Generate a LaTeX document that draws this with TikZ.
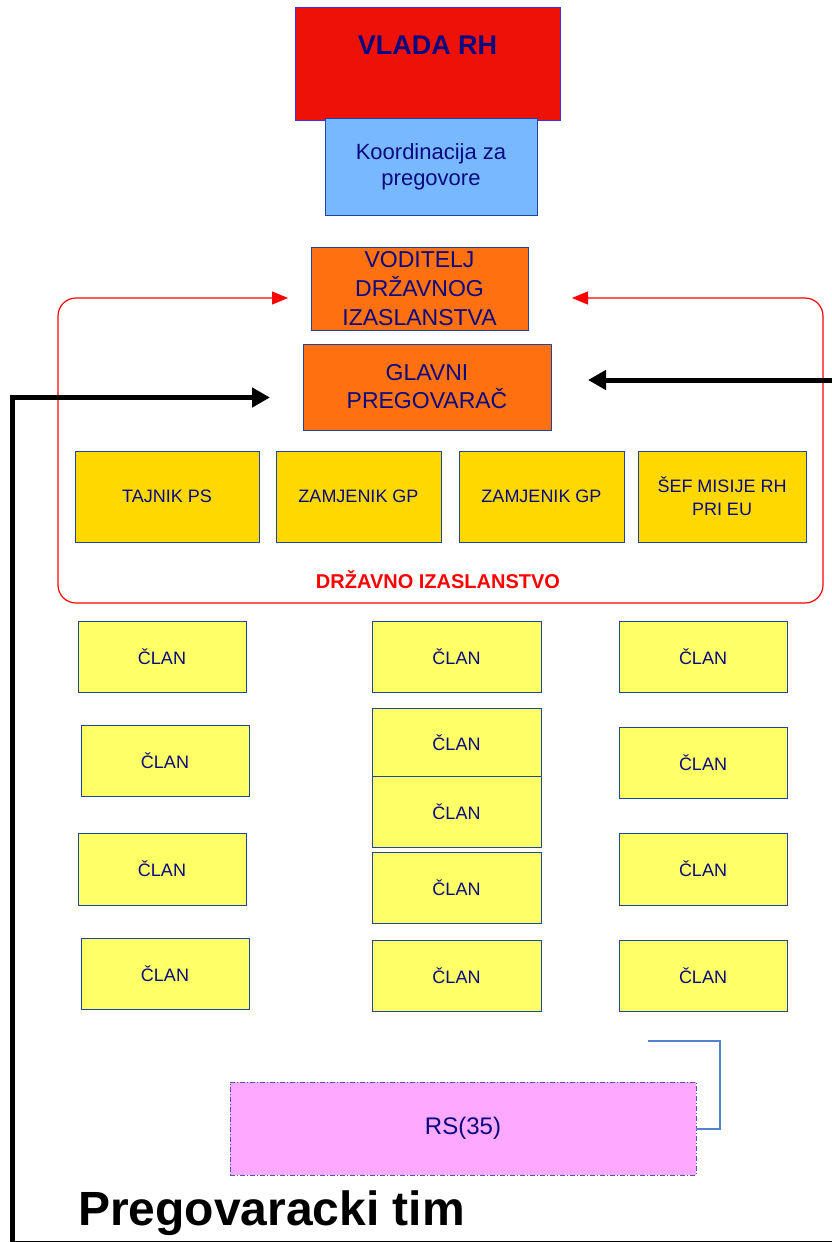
\documentclass[tikz,border=0pt]{standalone}
\usepackage{fontspec}
\setmainfont{Liberation Sans}
\usetikzlibrary{arrows.meta}
\definecolor{vred}{HTML}{EE1108}
\definecolor{navy}{HTML}{0A0A80}
\definecolor{bord}{HTML}{2244A0}
\definecolor{lblue}{HTML}{77B8FF}
\definecolor{orng}{HTML}{FF7010}
\definecolor{gold}{HTML}{FFD800}
\definecolor{lyel}{HTML}{FFFF66}
\definecolor{pnk}{HTML}{FFA8FF}
\definecolor{conn}{HTML}{5580CC}
\tikzset{
  base/.style={draw=bord, line width=1pt, inner sep=0pt, outer sep=0pt, text=navy, align=center},
  vlada/.style={base, fill=vred, draw=blue!80!white, font=\fontsize{27}{30}\selectfont\bfseries},
  koord/.style={base, fill=lblue, font=\fontsize{22}{26}\selectfont},
  orbox/.style={base, fill=orng, font=\fontsize{23}{29}\selectfont},
  gbox/.style={base, fill=gold, minimum height=91pt, font=\fontsize{18}{23}\selectfont},
  clan/.style={base, fill=lyel, minimum width=168pt, minimum height=71pt, font=\fontsize{18}{22}\selectfont},
  rsbox/.style={base, fill=pnk, draw=bord!80!pnk, dash pattern=on 5pt off 2pt on 1pt off 2pt, font=\fontsize{24}{28}\selectfont},
  redarr/.style={draw=red, line width=1.2pt, rounded corners=18pt},
  blackarr/.style={draw=black, line width=5pt, -{Triangle[length=18pt,width=19pt]}},
}
\begin{document}
\begin{tikzpicture}[x=1pt,y=-1pt]
\useasboundingbox (0,0) rectangle (832,1242);
\fill[white] (0,0) rectangle (832,1242);

% red frame of Drzavno izaslanstvo
\coordinate (rl) at (288,298);
\coordinate (rr) at (572,298);
\draw[redarr, {Triangle[length=16pt,width=13pt]}-{Triangle[length=16pt,width=13pt]}]
  (rr) -- (823,298) -- (823,603) -- (58,603) -- (58,298) -- (rl);
\node[text=red, font=\fontsize{20}{24}\selectfont\bfseries] (drz) at (438,580) {DRŽAVNO IZASLANSTVO};

% top
\node[vlada, minimum width=265pt, minimum height=113pt] (vlada) at (427.5,63.5) {\raisebox{9pt}[0pt][0pt]{VLADA RH}};
\node[koord, minimum width=212pt, minimum height=97pt] (koord) at (431,166.5) {\raisebox{-2pt}{\parbox{200pt}{\centering Koordinacija za\\pregovore}}};
\node[orbox, minimum width=217pt, minimum height=83pt] (vod) at (419.5,288.5) {VODITELJ\\DRŽAVNOG\\IZASLANSTVA};
\node[orbox, minimum width=248pt, minimum height=86pt, font=\fontsize{23}{28}\selectfont] (glav) at (427,387) {GLAVNI\\PREGOVARAČ};

% gold row
\node[gbox, minimum width=184pt] (taj) at (167,496.5) {TAJNIK PS};
\node[gbox, minimum width=165pt] (zam1) at (358.5,496.5) {ZAMJENIK GP};
\node[gbox, minimum width=165pt] (zam2) at (541.5,496.5) {ZAMJENIK GP};
\node[gbox, minimum width=168pt] (sef) at (722,496.5) {ŠEF MISIJE RH\\PRI EU};

% clan column 1
\node[clan] (c11) at (162,656.5) {ČLAN};
\node[clan] (c12) at (165,760.5) {ČLAN};
\node[clan, minimum height=72pt] (c13) at (162,869) {ČLAN};
\node[clan] (c14) at (165,973.5) {ČLAN};
% column 2
\node[clan, minimum width=169pt] (c21) at (456.5,656.5) {ČLAN};
\node[clan, minimum width=169pt, minimum height=69pt] (c22) at (456.5,742.5) {ČLAN};
\node[clan, minimum width=169pt] (c23) at (456.5,811.5) {ČLAN};
\node[clan, minimum width=169pt] (c24) at (456.5,887.5) {ČLAN};
\node[clan, minimum width=169pt] (c25) at (456.5,975.5) {ČLAN};
% column 3
\node[clan] (c31) at (703,656.5) {ČLAN};
\node[clan] (c32) at (703,762.5) {ČLAN};
\node[clan, minimum height=72pt] (c33) at (703,869) {ČLAN};
\node[clan] (c34) at (703,975.5) {ČLAN};

% RS
\node[rsbox, minimum width=466pt, minimum height=93pt] (rs) at (463,1128.5) {RS(35)};
\coordinate (cs) at (648,1041);
\draw[conn, line width=2pt] (cs) -- (720,1041) |- (rs.east);

% black arrows
\coordinate (bl0) at (12,1242);
\coordinate (blt) at (270,397.5);
\draw[blackarr, line join=miter] (bl0) |- (blt);
\coordinate (br0) at (832,380);
\coordinate (brt) at (588,380);
\draw[blackarr] (br0) -- (brt);
\draw[black, line width=1pt] (12,1241) -- (832,1241);

% title
\node[anchor=base west, inner sep=0pt, font=\fontsize{48}{52}\selectfont\bfseries] (title) at (78,1225) {Pregovaracki tim};
\end{tikzpicture}
\end{document}
